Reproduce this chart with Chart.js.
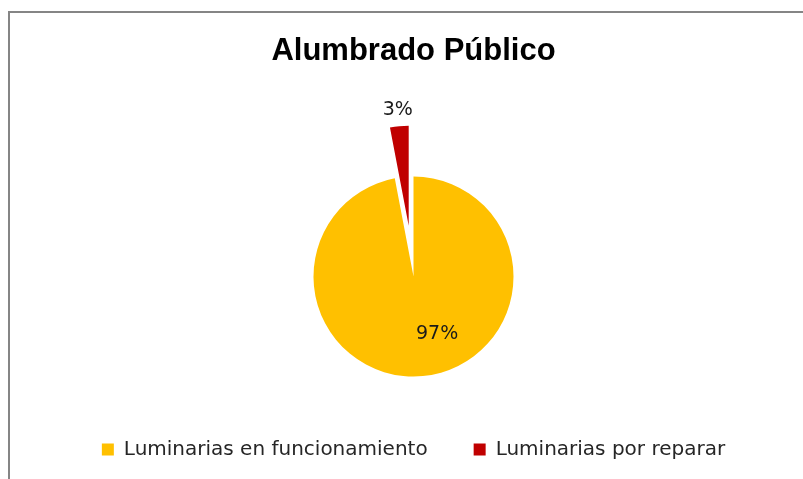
<!DOCTYPE html>
<html>
<head>
<meta charset="utf-8">
<script src="https://cdn.jsdelivr.net/npm/chart.js@4"></script>
<style>
  html, body { margin: 0; padding: 0; background: #fff; overflow: hidden; }
  #frame { position: absolute; left: 8px; top: 11px; width: 900px; height: 600px;
           border-top: 2px solid #858585; border-left: 2px solid #858585; }
  #wrap { position: absolute; left: 0; top: 0; width: 803px; height: 479px; }
</style>
</head>
<body>
<div id="frame"></div>
<div id="wrap"><canvas id="pie"></canvas></div>
<script>
// --- Data ---
const categories = ['Luminarias en funcionamiento', 'Luminarias por reparar'];
const values = [97, 3];
const sliceColors = ['#FFC000', '#C00000'];
const explode = [0, 51];   // pixels the slice is pulled out of the pie

// Excel-style explosion: move the whole slice outwards, keep its radius
const explodeSlices = {
    id: 'explodeSlices',
    beforeDatasetDraw(chart, args) {
        const ctx = chart.ctx;
        args.meta.data.forEach((arc, i) => {
            const mid = (arc.startAngle + arc.endAngle) / 2;
            ctx.save();
            ctx.translate(Math.cos(mid) * explode[i], Math.sin(mid) * explode[i]);
            arc.draw(ctx, chart.chartArea);
            ctx.restore();
        });
        return false;
    }
};

// --- Percentage labels drawn next to each slice ---
const percentLabels = {
    id: 'percentLabels',
    afterDatasetsDraw(chart, args, opts) {
        const ctx = chart.ctx;
        const meta = chart.getDatasetMeta(0);
        const total = values.reduce((a, b) => a + b, 0);
        ctx.save();
        ctx.font = opts.font;
        ctx.fillStyle = opts.color;
        ctx.textAlign = 'center';
        ctx.textBaseline = 'middle';
        meta.data.forEach((arc, i) => {
            const place = opts.place[i];
            const mid = (arc.startAngle + arc.endAngle) / 2 + place.shift * Math.PI / 180;
            const r = place.outside ? arc.outerRadius + explode[i] + place.dist : arc.outerRadius * place.ratio;
            const x = arc.x + Math.cos(mid) * r;
            const y = arc.y + Math.sin(mid) * r;
            ctx.fillText(Math.round(values[i] / total * 100) + '%', x, y);
        });
        ctx.restore();
    }
};

const ctx = document.getElementById('pie').getContext('2d');
new Chart(ctx, {
    type: 'pie',
    data: {
        labels: categories,
        datasets: [{
            data: values,
            backgroundColor: sliceColors,
            borderWidth: 0,
            radius: 100
        }]
    },
    options: {
        responsive: true,
        maintainAspectRatio: false,
        animation: false,
        layout: { padding: { top: 0, left: 24, right: 0, bottom: 9.5 } },
        plugins: {
            title: {
                display: true,
                text: 'Alumbrado Público',
                color: '#000',
                font: { family: 'Liberation Sans', size: 31, weight: 'bold', lineHeight: 1.2 },
                padding: { top: 32.4, bottom: 90 }
            },
            legend: {
                position: 'bottom',
                labels: {
                    color: '#262626',
                    font: { family: 'DejaVu Sans', size: 20 },
                    boxWidth: 12,
                    boxHeight: 12,
                    padding: 46
                }
            },
            tooltip: { enabled: false },
            percentLabels: {
                font: '19px "DejaVu Sans"',
                color: '#1a1a1a',
                place: [
                    { shift: -17, ratio: 0.62 },
                    { shift: 0, outside: true, dist: 16 }
                ]
            }
        }
    },
    plugins: [explodeSlices, percentLabels]
});
</script>
</body>
</html>
